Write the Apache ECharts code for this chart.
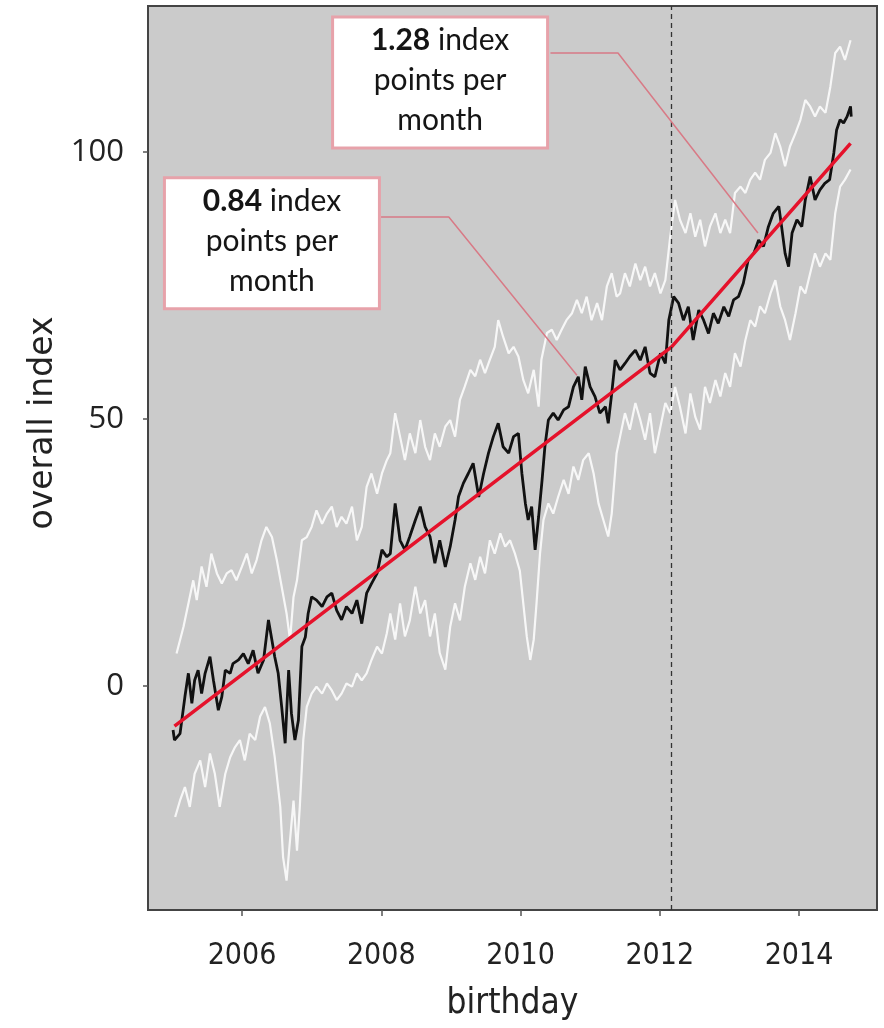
<!DOCTYPE html>
<html><head><meta charset="utf-8">
<script src="https://cdn.jsdelivr.net/npm/echarts@6/dist/echarts.min.js"></script>
<style>html,body{margin:0;padding:0;background:#fff}#c{width:884px;height:1028px}</style>
</head><body><div id="c"></div>
<script>
const xTicks = [2006, 2008, 2010, 2012, 2014];
const yTicks = [0, 50, 100];
const breakYear = 2012.17;

const observed = [
[2005.01,-8.2],[2005.03,-10.1],[2005.11,-8.9],[2005.18,-2.0],[2005.23,2.4],[2005.28,-3.2],[2005.32,1.1],[2005.37,3.0],
[2005.42,-1.4],[2005.47,2.4],[2005.54,5.5],[2005.59,1.1],[2005.66,-4.5],[2005.71,-2.0],[2005.76,3.0],[2005.83,2.4],
[2005.87,4.2],[2005.95,4.9],[2006.02,6.1],[2006.09,4.2],[2006.16,6.7],[2006.23,2.4],[2006.31,4.9],[2006.38,12.4],
[2006.43,8.6],[2006.47,5.5],[2006.52,2.4],[2006.57,-3.9],[2006.62,-10.7],[2006.67,3.0],[2006.71,-5.1],[2006.76,-10.1],
[2006.81,-6.4],[2006.86,7.4],[2006.91,9.2],[2006.95,13.6],[2007.00,16.7],[2007.07,16.1],[2007.15,14.9],[2007.22,16.7],
[2007.29,17.4],[2007.36,14.2],[2007.43,12.4],[2007.50,14.9],[2007.58,13.6],[2007.65,16.1],[2007.72,11.7],[2007.79,17.4],
[2007.86,19.2],[2007.94,21.1],[2008.01,25.5],[2008.08,24.2],[2008.13,24.8],[2008.20,34.2],[2008.27,27.3],[2008.34,25.5],
[2008.41,28.0],[2008.49,31.1],[2008.56,33.6],[2008.63,29.8],[2008.70,28.0],[2008.77,23.0],[2008.84,27.3],[2008.92,22.3],
[2008.99,26.1],[2009.06,31.1],[2009.11,35.5],[2009.18,38.0],[2009.25,39.8],[2009.32,41.7],[2009.40,35.4],[2009.47,39.8],
[2009.54,43.6],[2009.61,46.7],[2009.68,49.2],[2009.75,44.8],[2009.83,43.6],[2009.90,46.7],[2009.97,47.3],[2010.02,39.8],
[2010.07,34.2],[2010.11,31.1],[2010.16,33.6],[2010.21,25.5],[2010.26,31.7],[2010.31,38.6],[2010.35,44.8],[2010.40,49.8],
[2010.47,51.1],[2010.54,49.8],[2010.62,51.7],[2010.69,52.3],[2010.76,56.0],[2010.83,57.9],[2010.88,53.6],[2010.93,59.8],
[2011.00,56.0],[2011.07,54.2],[2011.14,51.1],[2011.22,52.3],[2011.26,49.2],[2011.31,54.8],[2011.36,61.0],[2011.43,59.2],
[2011.50,60.4],[2011.57,61.7],[2011.65,62.9],[2011.72,61.0],[2011.79,63.5],[2011.86,58.6],[2011.93,57.9],[2012.01,62.3],
[2012.08,60.4],[2012.13,68.5],[2012.20,72.9],[2012.27,71.7],[2012.34,68.5],[2012.41,71.0],[2012.48,64.8],[2012.56,70.4],
[2012.63,68.5],[2012.70,66.0],[2012.77,69.8],[2012.84,67.9],[2012.92,71.0],[2012.99,69.2],[2013.06,72.3],[2013.13,72.9],
[2013.20,75.4],[2013.27,79.8],[2013.35,81.0],[2013.42,83.5],[2013.49,82.3],[2013.56,86.0],[2013.63,88.5],[2013.71,89.8],
[2013.75,86.0],[2013.80,81.0],[2013.85,78.5],[2013.90,84.8],[2013.97,87.3],[2014.04,86.0],[2014.09,91.0],[2014.16,95.4],
[2014.23,91.0],[2014.30,92.9],[2014.37,94.1],[2014.44,94.8],[2014.50,99.8],[2014.54,104.1],[2014.59,106.0],[2014.64,105.4],
[2014.69,106.6],[2014.74,108.5],[2014.75,106.6]
];

const upperBand = [
[2005.06,6.1],[2005.16,11.1],[2005.25,16.7],[2005.30,19.8],[2005.35,16.1],[2005.42,22.4],[2005.49,18.6],[2005.56,24.8],
[2005.64,21.1],[2005.71,19.2],[2005.78,21.1],[2005.85,21.7],[2005.92,19.8],[2006.00,22.4],[2006.07,24.8],[2006.14,21.1],
[2006.21,23.6],[2006.28,27.3],[2006.35,29.8],[2006.43,27.9],[2006.50,23.6],[2006.57,18.6],[2006.64,13.6],[2006.69,8.6],
[2006.74,16.7],[2006.79,19.8],[2006.86,27.3],[2006.93,27.9],[2007.00,29.8],[2007.07,32.9],[2007.15,30.4],[2007.22,32.3],
[2007.29,33.6],[2007.36,29.8],[2007.43,31.7],[2007.50,30.4],[2007.58,33.6],[2007.65,27.3],[2007.72,29.8],[2007.79,37.3],
[2007.86,39.8],[2007.94,36.0],[2008.01,39.8],[2008.08,42.3],[2008.13,43.6],[2008.20,51.1],[2008.27,46.7],[2008.34,42.3],
[2008.41,47.3],[2008.49,43.6],[2008.56,49.8],[2008.63,44.8],[2008.70,42.3],[2008.77,47.3],[2008.84,44.8],[2008.92,48.6],
[2008.99,49.8],[2009.06,46.7],[2009.13,53.6],[2009.20,56.1],[2009.28,59.2],[2009.35,58.0],[2009.42,61.1],[2009.49,58.6],
[2009.56,61.1],[2009.63,63.5],[2009.68,68.5],[2009.75,65.4],[2009.83,62.3],[2009.90,63.5],[2009.97,61.7],[2010.04,57.3],
[2010.11,54.8],[2010.19,59.2],[2010.26,52.3],[2010.30,61.1],[2010.38,66.1],[2010.45,66.7],[2010.52,64.8],[2010.59,66.7],
[2010.66,68.5],[2010.74,69.8],[2010.81,72.3],[2010.88,69.8],[2010.95,72.9],[2011.02,68.5],[2011.10,71.7],[2011.17,68.5],
[2011.24,74.8],[2011.31,77.3],[2011.38,72.9],[2011.43,73.5],[2011.50,77.3],[2011.57,74.8],[2011.65,79.1],[2011.72,76.0],
[2011.79,78.5],[2011.86,74.8],[2011.93,77.3],[2012.01,73.5],[2012.08,76.0],[2012.15,84.1],[2012.22,91.0],[2012.29,87.3],
[2012.37,84.8],[2012.44,88.5],[2012.51,84.1],[2012.58,87.3],[2012.65,82.3],[2012.72,86.0],[2012.80,88.5],[2012.87,84.8],
[2012.94,87.3],[2013.01,84.8],[2013.08,92.3],[2013.16,93.5],[2013.23,92.3],[2013.30,94.8],[2013.37,96.1],[2013.44,94.8],
[2013.51,98.5],[2013.59,99.8],[2013.66,103.5],[2013.73,101.0],[2013.80,97.3],[2013.87,101.0],[2013.95,103.5],[2014.02,106.0],
[2014.09,109.7],[2014.16,108.5],[2014.23,106.6],[2014.30,108.5],[2014.38,107.3],[2014.45,112.2],[2014.52,118.5],[2014.59,119.7],
[2014.66,117.2],[2014.74,120.9]
];

const lowerBand = [
[2005.04,-24.5],[2005.11,-21.4],[2005.18,-18.9],[2005.25,-22.6],[2005.32,-16.4],[2005.40,-13.9],[2005.47,-18.9],[2005.54,-12.6],
[2005.61,-16.4],[2005.68,-22.6],[2005.76,-16.4],[2005.83,-13.3],[2005.90,-11.4],[2005.97,-10.1],[2006.04,-13.9],[2006.11,-8.9],
[2006.19,-10.1],[2006.26,-5.7],[2006.33,-3.9],[2006.40,-7.0],[2006.47,-13.3],[2006.55,-22.6],[2006.59,-32.0],[2006.64,-36.4],
[2006.69,-28.8],[2006.74,-21.4],[2006.79,-30.8],[2006.83,-22.6],[2006.88,-10.1],[2006.93,-3.9],[2007.00,-1.4],[2007.07,-0.1],
[2007.15,-1.4],[2007.22,0.5],[2007.29,-0.8],[2007.36,-2.6],[2007.43,-1.4],[2007.50,0.5],[2007.58,-0.1],[2007.65,2.4],
[2007.72,1.1],[2007.79,2.4],[2007.86,4.9],[2007.94,7.4],[2008.01,6.1],[2008.08,9.9],[2008.13,13.6],[2008.20,8.7],
[2008.27,15.5],[2008.34,9.3],[2008.41,12.3],[2008.49,18.6],[2008.56,13.6],[2008.63,16.1],[2008.70,9.3],[2008.77,13.6],
[2008.84,6.2],[2008.92,3.1],[2008.99,11.1],[2009.06,15.5],[2009.13,12.3],[2009.20,18.6],[2009.28,23.0],[2009.35,19.9],
[2009.42,24.2],[2009.49,21.1],[2009.56,27.3],[2009.63,24.8],[2009.71,28.6],[2009.78,26.1],[2009.85,27.3],[2009.92,24.8],
[2009.99,21.6],[2010.04,15.5],[2010.09,9.3],[2010.14,4.9],[2010.19,8.7],[2010.23,15.5],[2010.28,24.8],[2010.33,31.1],
[2010.40,34.2],[2010.47,32.3],[2010.54,35.4],[2010.62,38.6],[2010.69,36.0],[2010.76,41.1],[2010.83,38.6],[2010.90,42.3],
[2010.98,43.6],[2011.05,39.8],[2011.12,34.2],[2011.19,31.1],[2011.26,28.0],[2011.31,32.3],[2011.38,43.6],[2011.43,46.7],
[2011.50,51.1],[2011.57,48.0],[2011.65,53.0],[2011.72,49.8],[2011.79,46.1],[2011.86,51.1],[2011.93,43.6],[2012.01,48.6],
[2012.08,53.0],[2012.15,51.1],[2012.22,56.0],[2012.29,52.3],[2012.37,47.3],[2012.44,54.8],[2012.51,50.4],[2012.58,48.0],
[2012.65,56.0],[2012.72,53.0],[2012.80,57.3],[2012.87,54.2],[2012.94,58.6],[2013.01,56.0],[2013.08,62.3],[2013.16,59.8],
[2013.23,64.8],[2013.30,68.5],[2013.37,67.3],[2013.44,71.1],[2013.51,69.8],[2013.59,73.5],[2013.66,76.0],[2013.73,71.1],
[2013.80,68.5],[2013.87,64.8],[2013.95,69.8],[2014.02,74.8],[2014.09,73.5],[2014.16,77.3],[2014.23,81.0],[2014.30,78.5],
[2014.38,81.0],[2014.45,79.8],[2014.52,88.5],[2014.59,93.5],[2014.66,94.8],[2014.74,96.7]
];

const fitLine = [[2005.03,-7.5],[2012.17,63.5],[2014.74,101.6]];

const noteRates = ['0.84', '1.28'];
const noteCenters = [[2006.43, 82.9], [2008.845, 113.0]];
const leaderEarly = [[2007.997, 87.8], [2008.97, 87.8], [2010.81, 58.2]];
const leaderLate = [[2010.43, 118.5], [2011.40, 118.5], [2013.41, 84.8]];

const chart = echarts.init(document.getElementById('c'), null, {renderer: 'canvas'});

const bandStyle = {color: 'rgba(255,255,255,0.85)', width: 2.2};
const leaderStyle = {color: '#d87a86', width: 1.5};
const narrowFont = '"DejaVu Sans Condensed","Liberation Sans Narrow",Lato,sans-serif';

chart.setOption({
  animation: false,
  backgroundColor: '#ffffff',
  grid: {left: 148, right: 7, top: 6, bottom: 118, show: true,
         backgroundColor: '#cbcbcb', borderColor: '#444', borderWidth: 2},
  xAxis: {
    type: 'value', min: 2004.65, max: 2015.12,
    name: 'birthday', nameLocation: 'middle', nameGap: 76,
    nameTextStyle: {fontFamily: narrowFont, fontSize: 35, color: '#222'},
    axisLine: {show: true, onZero: false, lineStyle: {color: '#444', width: 2}},
    axisTick: {show: true, length: 6, customValues: xTicks, lineStyle: {color: '#555', width: 1.5}},
    axisLabel: {customValues: xTicks, margin: 31, formatter: v => String(v),
      fontFamily: narrowFont, fontSize: 30, color: '#222'},
    splitLine: {show: false}
  },
  yAxis: {
    type: 'value', min: -41.9, max: 127.3,
    name: 'overall index', nameLocation: 'middle', nameGap: 86,
    nameTextStyle: {fontFamily: '"DejaVu Sans",sans-serif', fontSize: 33, color: '#222', padding: [0, 0, 0, 70]},
    axisLine: {show: true, onZero: false, lineStyle: {color: '#444', width: 2}},
    axisTick: {show: true, length: 5, customValues: yTicks, lineStyle: {color: '#555', width: 1.5}},
    axisLabel: {customValues: yTicks, margin: 24, formatter: v => String(v),
      fontFamily: '"Open Sans",sans-serif', fontSize: 31, color: '#222'},
    splitLine: {show: false}
  },
  series: [
    {type: 'line', data: upperBand, showSymbol: false, lineStyle: bandStyle, z: 1, silent: true},
    {type: 'line', data: lowerBand, showSymbol: false, lineStyle: bandStyle, z: 1, silent: true},
    {type: 'line', data: observed, showSymbol: false, lineStyle: {color: '#111', width: 2.8}, z: 3, silent: true,
     markLine: {silent: true, symbol: 'none', label: {show: false},
       lineStyle: {color: '#333', type: [5, 4], width: 1.3}, data: [{xAxis: breakYear}]}},
    {type: 'line', data: fitLine, showSymbol: false, lineStyle: {color: '#e5122b', width: 3.5}, z: 4, silent: true},
    {type: 'line', data: leaderEarly, showSymbol: false, lineStyle: leaderStyle, z: 5, silent: true},
    {type: 'line', data: leaderLate, showSymbol: false, lineStyle: leaderStyle, z: 5, silent: true},
    {type: 'scatter', z: 6, silent: true, symbolSize: 1, itemStyle: {color: 'rgba(0,0,0,0)', opacity: 1},
     data: noteCenters.map((c, i) => ({value: c, rate: noteRates[i]})),
     label: {show: true, position: 'inside', opacity: 1,
       formatter: p => '{b|' + p.data.rate + '} index\npoints per\nmonth',
       backgroundColor: '#ffffff', borderColor: '#e7a2aa', borderWidth: 3,
       width: 206, height: 124, padding: [2, 3], align: 'center', verticalAlign: 'middle',
       fontFamily: 'Lato,sans-serif', fontSize: 30, lineHeight: 40, color: '#151515',
       rich: {b: {fontFamily: 'Lato,sans-serif', fontWeight: 'bold', fontSize: 30, lineHeight: 40, color: '#151515'}}}
    }
  ]
});
</script>
</body></html>
